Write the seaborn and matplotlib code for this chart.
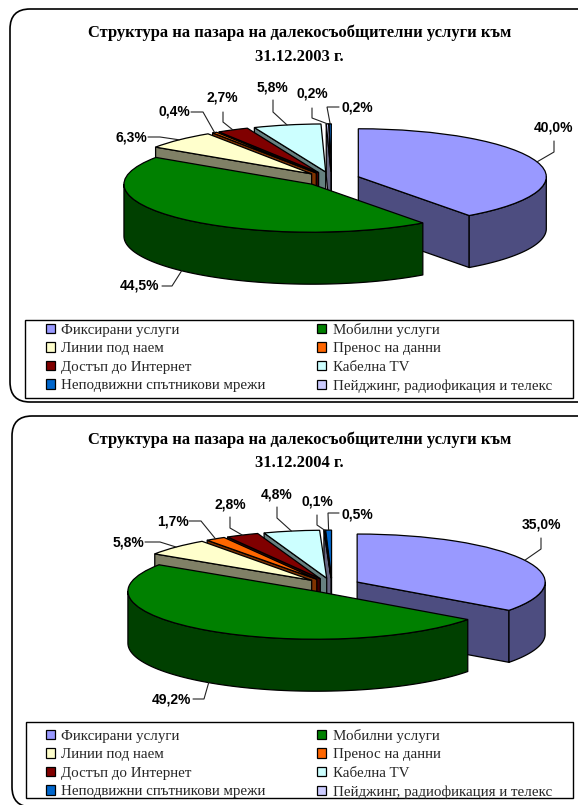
import numpy as np
import matplotlib
matplotlib.use("Agg")
import matplotlib.pyplot as plt
from matplotlib.patches import FancyBboxPatch, Rectangle, Polygon
import seaborn as sns

# --- data (slice order, clockwise from 12 o'clock) ---
CATEGORIES = ["Фиксирани услуги", "Мобилни услуги", "Линии под наем", "Пренос на данни",
              "Достъп до Интернет", "Кабелна TV",
              "Пейджинг, радиофикация и телекс", "Неподвижни спътникови мрежи"]
VALUES_2003 = [40.0, 44.5, 6.3, 0.4, 2.7, 5.8, 0.2, 0.2]
VALUES_2004 = [35.0, 49.2, 5.8, 1.7, 2.8, 4.8, 0.1, 0.5]
LEGEND_ORDER = [0, 1, 2, 3, 4, 5, 7, 6]
COLORS = ["#9999FF", "#008000", "#FFFFCC", "#FF6600", "#800000", "#CCFFFF", "#CCCCFF", "#0066CC"]
TITLE_LINE = "Структура на пазара на далекосъобщителни услуги към"
DATES = ["31.12.2003 г.", "31.12.2004 г."]

# --- layout (pixels) ---
W, H = 578, 805
RX, RY, DEPTH, EXPL = 188.0, 48.0, 52.0, 0.15
SERIF = "Liberation Serif"
SANS = "Liberation Sans"

sns.set_theme(style="white", palette=sns.color_palette(COLORS))
plt.rcParams["font.family"] = [SERIF, "DejaVu Sans"]

LAYOUTS = [
    dict(values=VALUES_2003, date=DATES[0], c=(331.5, 179.0), panel=(10, 9, 620, 402),
         box=(25, 320, 573, 398), title_y=(33, 57), legend_xy=(46, 323),
         labels=[((554, 127), [(554, 141), (554, 152)]),
                 ((139, 285), [(162, 286), (172, 286)]),
                 ((131, 137), [(148, 137), (160, 137)]),
                 ((174, 112), [(191, 112), (203, 112)]),
                 ((222, 98),  [(223, 112), (223, 122)]),
                 ((272, 87),  [(273, 100), (273, 112)]),
                 ((312, 94),  [(312, 108), (312, 118)]),
                 ((357, 107), [(339, 107), (327, 107)])]),
    dict(values=VALUES_2004, date=DATES[1], c=(332.0, 585.3), panel=(12, 416, 620, 807),
         box=(26, 722, 573, 798), title_y=(440, 463), legend_xy=(46, 729),
         labels=[((541, 524), [(541, 538), (541, 549)]),
                 ((171, 699), [(193, 699), (204, 699)]),
                 ((128, 542), [(145, 542), (160, 542)]),
                 ((173, 521), [(189, 521), (201, 521)]),
                 ((230, 504), [(230, 517), (230, 528)]),
                 ((277, 494), [(277, 507), (277, 518)]),
                 ((317, 501), [(317, 515), (317, 525)]),
                 ((357, 514), [(339, 513), (328, 513)])]),
]

fig = plt.figure(figsize=(W / 100, H / 100), dpi=100, facecolor="white")


def overlay(z):
    a = fig.add_axes([0, 0, 1, 1], zorder=z, facecolor="none")
    a.set_xlim(0, W)
    a.set_ylim(H, 0)
    a.axis("off")
    return a


bg = overlay(0)
ov = overlay(10)


def shade(col):
    r = np.array(matplotlib.colors.to_rgb(col)) * 0.5
    return tuple(r)


def pie3d(spec, z):
    values = np.array(spec["values"], float)
    cx, cy = spec["c"]
    x0, y0, x1, y1 = spec["panel"]
    bg.add_patch(FancyBboxPatch((x0, y0), x1 - x0, y1 - y0, boxstyle="round,pad=0,rounding_size=20",
                                fc="white", ec="black", lw=1.2, zorder=1))
    bx0, by0, bx1, by1 = spec["box"]
    bg.add_patch(Rectangle((bx0, by0), bx1 - bx0, by1 - by0, fc="white", ec="black", lw=1.0, zorder=2))

    ax = fig.add_axes([0, 0, 1, 1], zorder=z, facecolor="none")
    wedges, _ = ax.pie(values, colors=COLORS, startangle=90, counterclock=False, radius=1.0,
                       explode=[EXPL] * len(values),
                       wedgeprops=dict(edgecolor="black", linewidth=0.9))
    ax.set_aspect("auto")
    ax.set_xlim(-cx / RX, (W - cx) / RX)
    ax.set_ylim((cy - H) / RY, cy / RY)
    ax.axis("off")

    edges = np.cumsum(np.r_[0, values]) / values.sum() * 360.0
    mids = (edges[:-1] + edges[1:]) / 2
    d = DEPTH / RY
    # paint from the back of the pie to the front
    rank = np.argsort(-np.cos(np.radians(mids)))
    ends = []
    for k, (a, b, m) in enumerate(zip(edges[:-1], edges[1:], mids)):
        z0 = 3 * int(np.where(rank == k)[0][0]) + 3
        ox, oy = EXPL * np.sin(np.radians(m)), EXPL * np.cos(np.radians(m))
        wall = shade(COLORS[k])
        wk = dict(fc=wall, ec="black", lw=0.9, joinstyle="round")

        def rim(t):
            return ox + np.sin(np.radians(t)), oy + np.cos(np.radians(t))

        for t, visible in ((a, np.sin(np.radians(a)) < 0), (b, np.sin(np.radians(b)) > 0)):
            if visible:
                px, py = rim(t)
                ax.add_patch(Polygon([(ox, oy), (px, py), (px, py - d), (ox, oy - d)],
                                     closed=True, zorder=z0, **wk))
        lo, hi = max(a, 90), min(b, 270)
        if hi > lo:
            ts = np.linspace(lo, hi, 80)
            xs, ys = rim(ts)
            pts = np.r_[np.c_[xs, ys], np.c_[xs, ys - d][::-1]]
            ax.add_patch(Polygon(pts, closed=True, zorder=z0 + 1, **wk))
        wedges[k].set_zorder(z0 + 2)
        ex, ey = rim(m)
        if 120 < m < 240:
            ey -= d
        ends.append((cx + ex * RX, cy - ey * RY))

    # percentage labels with elbowed leaders ending on each slice's mid-angle rim
    for v, (pos, elbow), end in zip(values, spec["labels"], ends):
        ov.text(pos[0], pos[1], f"{v:.1f}%".replace(".", ","), family=SANS, weight="bold",
                fontsize=10.0, ha="center", va="center", color="black")
        pts = np.array(elbow + [end])
        ov.plot(pts[:, 0], pts[:, 1], color="#222222", lw=0.8, solid_joinstyle="miter")

    ov.text(299.5, spec["title_y"][0], TITLE_LINE, family=SERIF, weight="bold", fontsize=11.9,
            ha="center", va="center", color="black")
    ov.text(299.5, spec["title_y"][1], spec["date"], family=SERIF, weight="bold", fontsize=11.9,
            ha="center", va="center", color="black")

    hs = [wedges[i] for i in LEGEND_ORDER]
    ls = [CATEGORIES[i] for i in LEGEND_ORDER]
    order = [0, 2, 4, 6, 1, 3, 5, 7]
    ax.legend([hs[i] for i in order], [ls[i] for i in order], ncol=2, loc="upper left",
              bbox_to_anchor=spec["legend_xy"], bbox_transform=ov.transData, frameon=False,
              prop=dict(family=SERIF, size=10.8), handlelength=0.6, handleheight=0.6,
              handletextpad=0.42, borderpad=0, borderaxespad=0,
              labelspacing=0.36, columnspacing=3.45)


for i, spec in enumerate(LAYOUTS):
    pie3d(spec, 2 + i)

fig.savefig("out.png", dpi=100)
